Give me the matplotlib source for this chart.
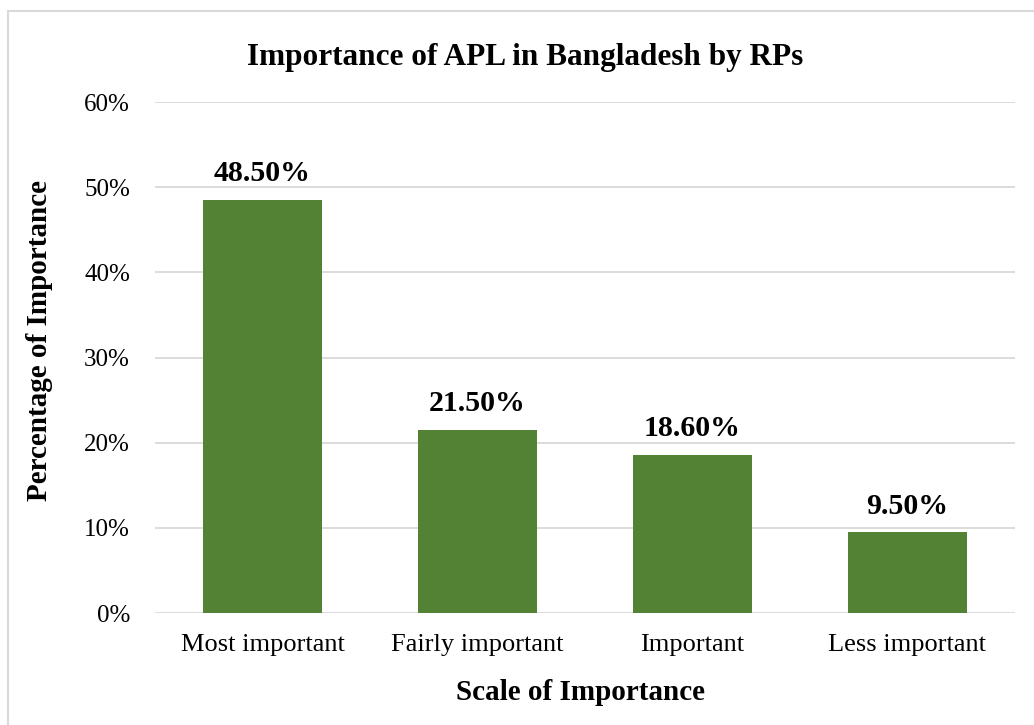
import matplotlib
matplotlib.use("Agg")
import matplotlib.pyplot as plt
from matplotlib.patches import Rectangle

categories = ["Most important", "Fairly important", "Important", "Less important"]
values = [48.5, 21.5, 18.6, 9.5]
yticks = [0, 10, 20, 30, 40, 50, 60]

GREEN = "#548235"
GRID = "#d9d9d9"
plt.rcParams["font.family"] = ["Liberation Serif", "DejaVu Serif"]

fig = plt.figure(figsize=(10.34, 7.25), dpi=100)
ax = fig.add_axes([155/1034, 1 - 613/725, 860/1034, 511/725])

x = range(len(categories))
ax.bar(x, values, width=0.553, color=GREEN, zorder=3)
for xi, v in zip(x, values):
    ax.annotate(f"{v:.2f}%", (xi, v), xytext=(0, 9), textcoords="offset points",
                ha="center", va="bottom", fontsize=21.5, fontweight="bold")

ax.set_xlim(-0.5, 3.5)
ax.set_ylim(0, 60)
ax.set_yticks(yticks)
ax.set_yticklabels([f"{t}%" for t in yticks], fontsize=18)
ax.set_xticks(list(x))
ax.set_xticklabels(categories, fontsize=19)
ax.tick_params(length=0)
ax.tick_params(axis="x", pad=15)
ax.tick_params(axis="y", pad=18)
ax.yaxis.grid(True, color=GRID, linewidth=1.3, zorder=0)
for s in ax.spines.values():
    s.set_visible(False)

fig.text(525/1034, 1 - 57/725, "Importance of APL in Bangladesh by RPs",
         ha="center", va="center", fontsize=22.5, fontweight="bold")
fig.text(580/1034, 1 - 692/725, "Scale of Importance",
         ha="center", va="center", fontsize=21, fontweight="bold")
fig.text(40/1034, 1 - 340/725, "Percentage of Importance", rotation=90,
         ha="center", va="center", fontsize=21, fontweight="bold")

fig.patches.append(Rectangle((8/1034, -0.1), 1.2, 1.1 - 11/725, transform=fig.transFigure,
                             fill=False, edgecolor="#d9d9d9", linewidth=1.5))

fig.savefig("out.png", dpi=100, facecolor="white")
